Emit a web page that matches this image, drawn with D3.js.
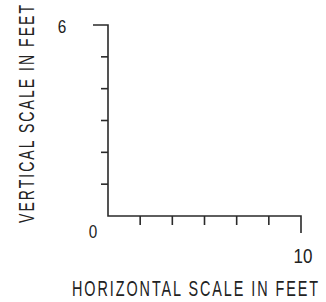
<!DOCTYPE html>
<html>
<head>
<meta charset="utf-8">
<script src="https://cdn.jsdelivr.net/npm/d3@7"></script>
<style>
  body { margin: 0; background: #fff; }
  text { font-family: 'Liberation Sans', Arial, sans-serif; fill: #222; }
</style>
</head>
<body>
<svg width="326" height="302"></svg>
<script>
// scale ranges (feet)
let xDomain = [0, 10]
let yDomain = [0, 6]
let xTicks = [1.667, 3.333, 5, 6.667, 8.333]
let yTicks = [1, 2, 3, 4, 5]
let xLabel = 'HORIZONTAL SCALE IN FEET'
let yLabel = 'VERTICAL SCALE IN FEET'

let svg = d3.select('svg')
let ink = '#2a2a2a'

let x = d3.scaleLinear().domain(xDomain).range([108, 301])
let y = d3.scaleLinear().domain(yDomain).range([216, 25])

let g = svg.append('g')
  .attr('stroke', ink)
  .attr('stroke-width', 1.6)
  .attr('fill', 'none')

// axes lines
g.append('path')
  .attr('d', 'M' + (x(0) - 15) + ',' + y(6) + 'H' + x(0) + 'V' + y(0) + 'H' + x(10) + 'V' + (y(0) + 17))

// vertical ticks
g.selectAll('.yt').data(yTicks).enter().append('line')
  .attr('x1', x(0) - 7).attr('x2', x(0))
  .attr('y1', d => y(d)).attr('y2', d => y(d))

// horizontal ticks
g.selectAll('.xt').data(xTicks).enter().append('line')
  .attr('x1', d => x(d)).attr('x2', d => x(d))
  .attr('y1', y(0)).attr('y2', y(0) + 9)

// end labels
let numSqueeze = 0.85
function endLabel (cx, by, size, txt) {
  svg.append('g')
    .attr('transform', 'translate(' + cx + ',' + by + ') scale(' + numSqueeze + ',1)')
    .append('text')
    .attr('text-anchor', 'middle')
    .attr('font-size', size)
    .text(txt)
}
endLabel(62, y(6) + 8, 18, yDomain[1])
endLabel(93, y(0) + 22, 18, xDomain[0])
endLabel(x(10) + 2, y(0) + 47, 20, xDomain[1])

// axis titles, drawn narrow like the lettering template
let squeeze = 0.64

svg.append('g')
  .attr('transform', 'translate(195,296) scale(' + squeeze + ',1)')
  .append('text')
  .attr('text-anchor', 'middle')
  .attr('font-size', 22.5)
  .attr('textLength', 246 / squeeze)
  .attr('lengthAdjust', 'spacing')
  .text(xLabel)

svg.append('g')
  .attr('transform', 'translate(34,114) rotate(-90) scale(' + squeeze + ',1)')
  .append('text')
  .attr('text-anchor', 'middle')
  .attr('font-size', 22)
  .attr('textLength', 218 / squeeze)
  .attr('lengthAdjust', 'spacing')
  .text(yLabel)
</script>
</body>
</html>
